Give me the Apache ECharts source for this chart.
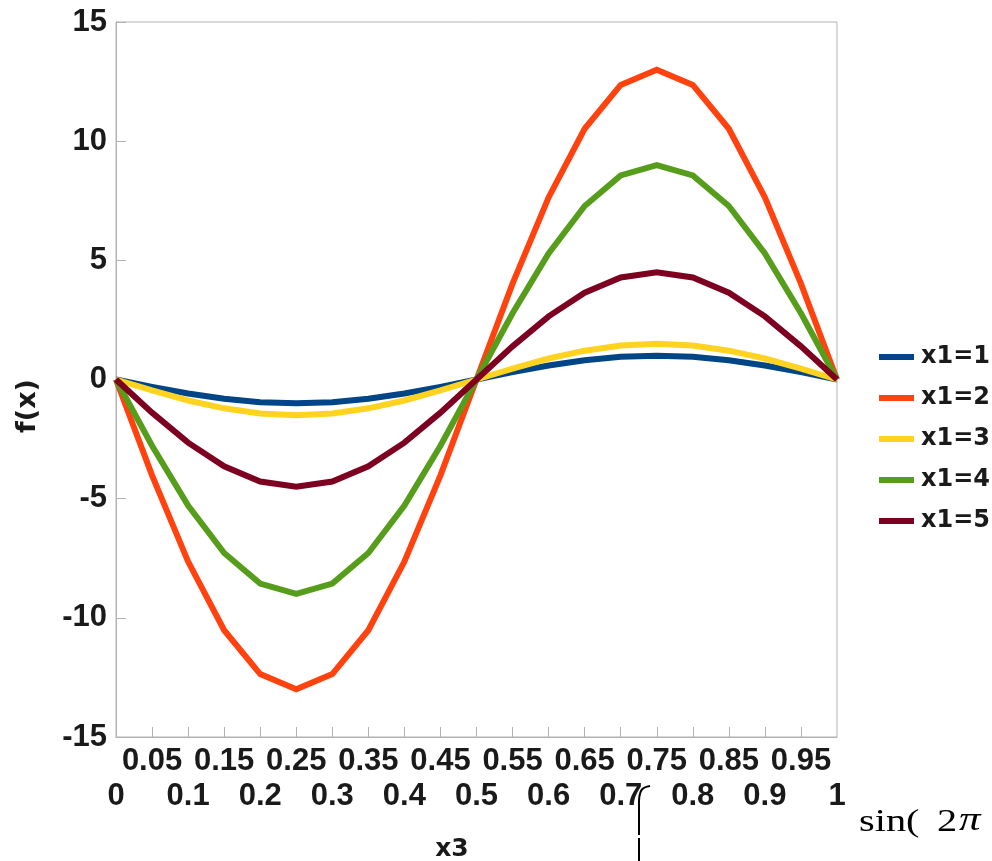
<!DOCTYPE html>
<html>
<head>
<meta charset="utf-8">
<script src="https://cdn.jsdelivr.net/npm/echarts@6/dist/echarts.min.js"></script>
<style>
  html, body { margin: 0; padding: 0; background: #fff; }
  #chart { width: 992px; height: 861px; }
</style>
</head>
<body>
<div id="chart"></div>
<script>
// x3 sample points
const x3 = [0, 0.05, 0.1, 0.15, 0.2, 0.25, 0.3, 0.35, 0.4, 0.45, 0.5,
            0.55, 0.6, 0.65, 0.7, 0.75, 0.8, 0.85, 0.9, 0.95, 1];

// f(x) for each x1 setting
const fx1 = [0, -0.31, -0.59, -0.81, -0.95, -1, -0.95, -0.81, -0.59, -0.31, 0,
             0.31, 0.59, 0.81, 0.95, 1, 0.95, 0.81, 0.59, 0.31, 0];
const fx2 = [0, -4.02, -7.64, -10.52, -12.36, -13, -12.36, -10.52, -7.64, -4.02, 0,
             4.02, 7.64, 10.52, 12.36, 13, 12.36, 10.52, 7.64, 4.02, 0];
const fx3 = [0, -0.46, -0.88, -1.21, -1.43, -1.5, -1.43, -1.21, -0.88, -0.46, 0,
             0.46, 0.88, 1.21, 1.43, 1.5, 1.43, 1.21, 0.88, 0.46, 0];
const fx4 = [0, -2.78, -5.29, -7.28, -8.56, -9, -8.56, -7.28, -5.29, -2.78, 0,
             2.78, 5.29, 7.28, 8.56, 9, 8.56, 7.28, 5.29, 2.78, 0];
const fx5 = [0, -1.39, -2.65, -3.64, -4.28, -4.5, -4.28, -3.64, -2.65, -1.39, 0,
             1.39, 2.65, 3.64, 4.28, 4.5, 4.28, 3.64, 2.65, 1.39, 0];

const seriesNames = ['x1=1', 'x1=2', 'x1=3', 'x1=4', 'x1=5'];
const seriesValues = [fx1, fx2, fx3, fx4, fx5];
const colors = ['#004586', '#ff420e', '#ffd320', '#579d1c', '#7e0021'];

const yMin = -15, yMax = 15, yStep = 5;
const xMin = 0, xMax = 1;
const xMajorStep = 0.1;   // labels on the lower row
const xMinorStep = 0.05;  // ticks, plus the in-between labels on the upper row

const textColor = '#1a1a1a';
const frameColor = '#b3b3b3';
const tickFont = '"Liberation Sans", Arial, sans-serif';
const nameFont = '"DejaVu Sans", "Liberation Sans", sans-serif';
const serifFont = '"Liberation Serif", "Times New Roman", serif';

function fmt(v) { return String(+v.toFixed(2)); }

const labelBase = {
  fontFamily: tickFont, fontWeight: 'bold', fontSize: 31, color: textColor
};

const chart = echarts.init(document.getElementById('chart'), null, { renderer: 'canvas' });

const option = {
  backgroundColor: '#ffffff',
  animation: false,
  color: colors,
  grid: {
    left: 116, right: 155, top: 22, bottom: 124,
    show: true, borderColor: frameColor, borderWidth: 1, backgroundColor: 'transparent'
  },
  legend: {
    orient: 'vertical',
    left: 879,
    top: 345,
    padding: 0,
    icon: 'rect',
    itemWidth: 35,
    itemHeight: 6,
    itemGap: 17,
    data: seriesNames,
    textStyle: {
      fontFamily: nameFont, fontWeight: 'bold', fontSize: 24,
      color: textColor, lineHeight: 24, padding: [0, 0, 0, 2]
    }
  },
  xAxis: [
    {
      // lower label row: 0, 0.1, ... 1
      type: 'value', position: 'bottom',
      min: xMin, max: xMax, interval: xMajorStep,
      axisLine: { show: true, onZero: false, lineStyle: { color: frameColor, width: 1 } },
      axisTick: { show: false },
      splitLine: { show: false },
      axisLabel: Object.assign({
        margin: 44, showMinLabel: true, showMaxLabel: true, formatter: fmt
      }, labelBase)
    },
    {
      // upper label row: 0.05, 0.15, ... 0.95, with ticks every 0.05
      type: 'value', position: 'bottom',
      min: xMin, max: xMax, interval: xMinorStep,
      axisLine: { show: false, onZero: false },
      axisTick: { show: true, inside: true, length: 10, lineStyle: { color: frameColor } },
      splitLine: { show: false },
      axisLabel: Object.assign({
        margin: 9, showMinLabel: false, showMaxLabel: false,
        formatter: function (v) {
          return Math.round(v / xMinorStep) % 2 === 1 ? fmt(v) : '';
        }
      }, labelBase)
    }
  ],
  yAxis: {
    type: 'value',
    min: yMin, max: yMax, interval: yStep,
    axisLine: { show: true, onZero: false, lineStyle: { color: frameColor, width: 1 } },
    axisTick: { show: true, inside: true, length: 10, lineStyle: { color: frameColor } },
    splitLine: { show: false },
    axisLabel: Object.assign({ margin: 9, showMinLabel: true, showMaxLabel: true }, labelBase)
  },
  graphic: [
    {
      type: 'text', x: 452, y: 849, z: 10,
      style: {
        text: 'x3', fill: textColor, align: 'center', verticalAlign: 'middle',
        font: 'bold 25px ' + nameFont
      }
    },
    {
      type: 'text', x: 28, y: 406, rotation: Math.PI / 2, z: 10,
      style: {
        text: 'f(x)', fill: textColor, align: 'center', verticalAlign: 'middle',
        font: 'bold 27px ' + nameFont
      }
    },
    // formula fragment below the axis, drawn wide
    {
      type: 'group', x: 859, y: 838, scaleX: 1.3, scaleY: 1, z: 10,
      children: [
        {
          type: 'text', x: 0, y: 0,
          style: { text: 'sin(', fill: '#000', verticalAlign: 'bottom', font: '31px ' + serifFont }
        },
        {
          type: 'text', x: 60, y: 0,
          style: { text: '2', fill: '#000', verticalAlign: 'bottom', font: '31px ' + serifFont }
        },
        {
          type: 'text', x: 77, y: 0,
          style: { text: 'π', fill: '#000', verticalAlign: 'bottom', font: 'italic 33px ' + serifFont }
        }
      ]
    },
    {
      type: 'bezierCurve', z: 10,
      shape: { x1: 639, y1: 806, x2: 650, y2: 786, cpx1: 638.5, cpy1: 790, cpx2: 642, cpy2: 787 },
      style: { stroke: '#000', lineWidth: 2, fill: 'none' }
    },
    {
      type: 'line', z: 10,
      shape: { x1: 639, y1: 804, x2: 639, y2: 835 },
      style: { stroke: '#000', lineWidth: 2 }
    },
    {
      type: 'line', z: 10,
      shape: { x1: 639, y1: 838, x2: 639, y2: 861 },
      style: { stroke: '#000', lineWidth: 2 }
    }
  ],
  series: seriesNames.map(function (name, k) {
    return {
      name: name,
      type: 'line',
      xAxisIndex: 0,
      data: x3.map(function (x, i) { return [x, seriesValues[k][i]]; }),
      showSymbol: false,
      symbol: 'none',
      lineStyle: { width: 6, color: colors[k], cap: 'butt', join: 'miter' },
      itemStyle: { color: colors[k] },
      z: 2 + k
    };
  })
};

chart.setOption(option);
</script>
</body>
</html>
